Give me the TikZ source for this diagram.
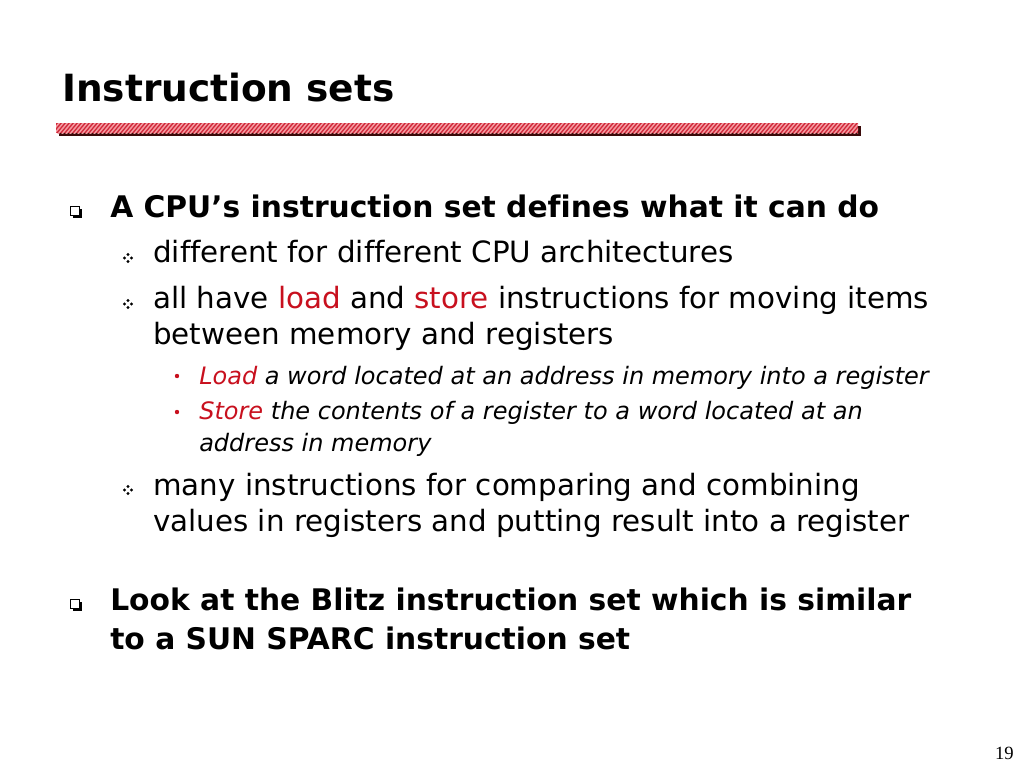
\documentclass[tikz,border=0pt]{standalone}
\usepackage{fontspec}
\setmainfont[Ligatures=NoCommon]{DejaVu Sans}
\newfontfamily\pagenumfont{Liberation Serif}
\definecolor{barred}{HTML}{D0283A}
\definecolor{barpink}{HTML}{F49AA0}
\definecolor{barshadow}{HTML}{3A0A0A}
\definecolor{wordred}{HTML}{C8101E}
\tikzset{
    slidetitle/.style={anchor=base west,inner sep=0pt,font=\fontsize{28.1}{32}\selectfont\bfseries},
    lvlone/.style={anchor=base west,inner sep=0pt,font=\fontsize{22.3}{27}\selectfont\bfseries},
    lvltwo/.style={anchor=base west,inner sep=0pt,font=\fontsize{22}{27}\selectfont},
    lvlthree/.style={anchor=base west,inner sep=0pt,font=\fontsize{18}{21}\selectfont\itshape},
}
\begin{document}
\begin{tikzpicture}[x=0.75pt,y=-0.75pt]
    \useasboundingbox[fill=white] (0,0) rectangle (1024,768);

    % title and bar
    \node[slidetitle] (title) at (62,101) {Instruction sets};
    \fill[barshadow] (59,126) rectangle (861,136);
    \fill[barred] (56,123) rectangle (858,133);
    \begin{scope}
        \clip (56,123) rectangle (858,133);
        \foreach \x in {50,54,...,860} \draw[barpink,line width=1.1pt] (\x,134) -- (\x+10,122);
    \end{scope}

    % first block
    \node[lvlone] (cpu) at (110,217) {A CPU’s instruction set defines what it can do};
    \node[lvltwo] (diff) at (153,262) {different for different CPU architectures};
    \node[lvltwo] (ldst) at (153,308) {all have {\color{wordred}load} and {\color{wordred}store} instructions for moving items};
    \node[lvltwo] (ldst2) at (153,344) {between memory and registers};
    \node[lvlthree] (load) at (199,384) {{\color{wordred}Load} a word located at an address in memory into a register};
    \node[lvlthree] (store) at (199,419) {{\color{wordred}Store} the contents of a register to a word located at an};
    \node[lvlthree] (store2) at (199,451) {address in memory};
    \node[lvltwo] (many) at (153,495) {many instructions for comparing and combining};
    \node[lvltwo] (many2) at (153,531) {values in registers and putting result into a register};

    % second block
    \node[lvlone] (blitz) at (110,610) {Look at the Blitz instruction set which is similar};
    \node[lvlone] (blitz2) at (110,649) {to a SUN SPARC instruction set};

    \node[anchor=base east,inner sep=0pt,font=\pagenumfont\fontsize{14}{16}\selectfont] (pagenum) at (1014,759) {19};

    % bullets
    \foreach \y in {212,605} {
        \fill (73,\y-3) rectangle (82,\y+6);
        \draw[fill=white,line width=0.6pt] (70,\y-6) rectangle (79,\y+3);
    }
    \foreach \y in {258,304,490} \foreach \dx/\dy in {0/-3.5,3.5/0,0/3.5,-3.5/0}
        \fill (128+\dx,\y+\dy) circle (1.6);
    \foreach \y in {376,412} \fill[wordred] (177,\y) circle (2.2);
\end{tikzpicture}
\end{document}
